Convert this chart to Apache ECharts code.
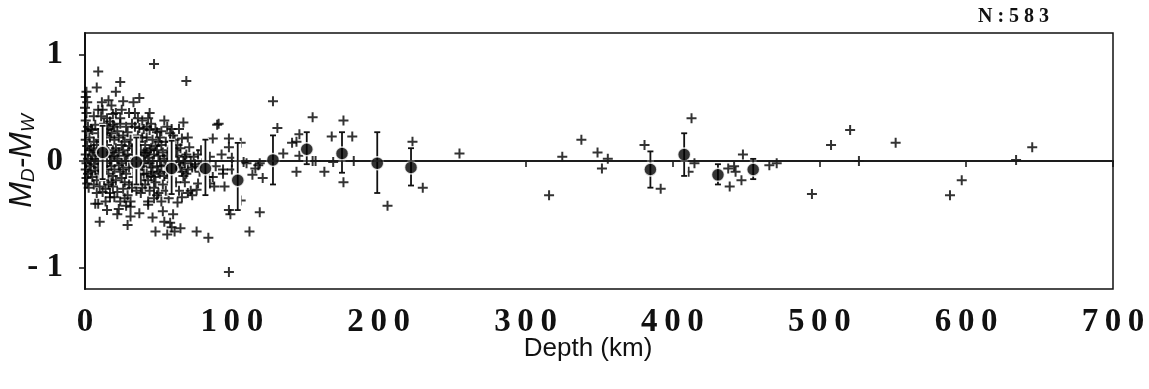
<!DOCTYPE html>
<html>
<head>
<meta charset="utf-8">
<script src="https://cdn.jsdelivr.net/npm/echarts@6/dist/echarts.min.js"></script>
<style>html,body{margin:0;padding:0;background:#fff;}#chart{width:1149px;height:389px;}</style>
</head>
<body>
<div id="chart"></div>
<script>
// ---- data ----
var xTicks = [0, 100, 200, 300, 400, 500, 600, 700];
var yTicks = [-1, 0, 1];
var sampleCountLabel = 'N:583';

// individual events: [depth km, MD-MW]
var crossPoints = [
  // 0-3 km
  [1,0.65],[0.5,0.6],[1.5,0.55],[0,0.5],[1,0.45],[0.5,0.38],[2,0.32],[1,0.28],[0.5,0.2],[1.5,0.14],
  [3,0.1],[0.5,0.06],[2,0.02],[1,-0.02],[3,-0.05],[0.5,-0.08],[2,-0.12],[1,-0.16],[1.5,-0.21],[2.5,-0.25],
  // 3-10 km
  [4,0.3],[5,0.29],[6,0.18],[7,0.34],[8,0.69],[9,0.84],[9,0.48],[9,0.26],[4,0.12],[5,0.05],
  [6,-0.03],[7,-0.09],[8,0.08],[5,-0.15],[6,-0.22],[7,-0.4],[9,-0.4],[10,-0.24],[10,-0.57],[4,-0.1],
  [8,-0.18],[3,0.22],[6,0.42],[8,0.15],[10,0.02],[7,0.02],[9,-0.06],[4,0.0],[10,0.2],[10,-0.12],
  [6,0.1],[8,-0.3],
  // 10-20 km
  [11.5,0.55],[12,0.48],[14,0.24],[15,0.4],[16,0.57],[17,0.37],[18,0.52],[18,0.26],[19,0.34],[11,0.3],
  [12,0.18],[13,0.12],[14,0.05],[15,0.15],[16,0.08],[17,0.0],[18,-0.05],[19,0.1],[20,0.2],[11,-0.02],
  [12,-0.1],[13,-0.18],[14,-0.26],[15,-0.46],[16,-0.12],[17,-0.3],[18,-0.2],[19,-0.24],[20,-0.34],[17,-0.34],
  [12,-0.29],[14,-0.08],[16,-0.22],[18,0.04],[20,-0.08],[13,0.35],[11,0.08],[15,-0.02],[19,-0.14],[20,0.05],
  [13,-0.05],[17,0.22],[15,0.29],[19,0.44],[11,0.42],[14,-0.38],[16,0.3],
  // 20-30 km
  [21,0.65],[24,0.74],[24,0.4],[24,0.35],[26,0.56],[22,0.28],[23,0.22],[25,0.15],[26,0.1],[27,0.05],
  [28,0.0],[29,0.27],[21,0.12],[22,0.02],[23,-0.04],[24,-0.1],[25,-0.16],[26,-0.26],[27,-0.2],[28,-0.12],
  [29,-0.32],[30,-0.06],[22,-0.29],[22,-0.5],[24,-0.38],[29,-0.6],[21,-0.18],[23,0.08],[25,-0.02],[27,0.18],
  [28,0.32],[30,0.14],[26,-0.08],[29,0.06],[21,0.45],[25,0.48],[28,-0.42],[30,-0.22],[23,-0.45],[27,-0.35],
  [26,0.24],[20,0.32],
  // 30-40 km
  [33,0.55],[37,0.59],[34,0.45],[34,0.32],[37,0.31],[36,0.24],[31,0.2],[32,0.12],[33,0.06],[34,0.02],
  [35,-0.03],[36,-0.08],[37,-0.13],[38,-0.18],[39,-0.05],[40,0.08],[31,-0.38],[31,-0.43],[31,-0.52],[37,-0.49],
  [32,-0.25],[33,-0.15],[35,0.15],[36,0.4],[38,0.1],[39,0.22],[40,-0.12],[35,-0.28],[38,-0.3],[40,0.3],
  [33,-0.06],[39,-0.25],[32,0.35],[36,0.06],[34,-0.2],[37,0.18],[40,-0.02],[30,0.45],[39,0.38],[35,0.0],
  // 40-50 km
  [47,0.91],[44,0.45],[43,0.4],[44,0.29],[42,0.22],[49,0.27],[41,0.15],[42,0.08],[43,0.03],[44,-0.02],
  [45,-0.06],[46,-0.1],[47,-0.15],[48,-0.2],[49,-0.05],[50,0.05],[41,-0.22],[43,-0.38],[43,-0.41],[46,-0.53],
  [48,-0.66],[49,-0.32],[45,0.12],[46,0.2],[47,0.06],[48,0.14],[50,0.18],[42,-0.12],[44,-0.28],[47,-0.25],
  [50,-0.1],[45,0.35],[48,0.3],[41,0.05],[49,0.1],[46,0.0],[43,-0.18],[45,-0.14],[50,-0.3],[42,0.32],
  [47,-0.35],[44,0.1],
  // 50-60 km
  [51,0.22],[54,0.38],[56,0.32],[58,0.26],[52,0.15],[53,0.08],[54,0.02],[55,-0.04],[56,-0.1],[57,-0.16],
  [58,-0.04],[59,0.12],[60,0.04],[52,-0.38],[53,-0.47],[54,-0.57],[56,-0.69],[58,-0.58],[59,-0.62],[51,-0.12],
  [53,-0.22],[55,-0.28],[57,-0.35],[59,-0.2],[60,-0.08],[55,0.18],[57,0.1],[51,0.0],[52,0.28],[59,0.3],
  [60,0.24],[54,-0.14],[56,0.05],[58,0.18],[60,-0.5],[52,-0.05],
  // 60-70 km
  [61,0.2],[61,-0.66],[65,-0.63],[66,0.21],[70,0.22],[71,0.13],[67,0.36],[69,0.75],[62,0.1],[63,0.05],
  [64,-0.01],[65,-0.06],[66,-0.1],[67,-0.14],[68,-0.02],[69,0.06],[70,-0.08],[63,-0.39],[62,-0.2],[64,-0.28],
  [66,-0.34],[68,-0.2],[70,-0.3],[63,0.15],[65,0.12],[67,0.0],[69,-0.12],[62,-0.04],[64,0.3],[68,0.04],
  // 70-100 km
  [73,-0.32],[72,-0.28],[76,-0.27],[77,-0.21],[76,-0.66],[77,0.06],[74,0.04],[72,0.0],[75,-0.05],[78,-0.1],
  [80,-0.02],[79,0.1],[84,-0.72],[85,-0.21],[85,0.04],[87,0.21],[87,-0.15],[88,-0.24],[89,-0.05],[90,0.34],
  [91,0.35],[93,0.06],[94,-0.08],[94,-0.12],[95,-0.24],[98,0.21],[98,0.13],[98,-0.46],[99,-0.5],[100,0.03],
  [100,-0.08],[98,-1.04],[82,-0.02],[84,-0.15],[73,-0.06],[75,-0.03],
  // 100-125 km
  [106,0.17],[108,-0.01],[106,-0.37],[112,-0.66],[114,-0.13],[116,-0.07],[118,-0.04],[119,-0.02],[119,-0.48],[121,-0.16],
  [110,-0.02],
  // 125-260 km
  [128,0.56],[131,0.31],[135,0.07],[141,0.17],[144,0.18],[146,0.05],[146,0.25],[144,-0.1],[155,0.41],[155,0.0],
  [157,0.0],[163,-0.1],[168,0.23],[169,-0.01],[176,0.38],[176,-0.2],[182,0.23],[183,0.0],[206,-0.42],[223,0.18],
  [230,-0.25],[255,0.07],
  // deeper than 300 km
  [316,-0.32],[325,0.04],[338,0.2],[349,0.08],[352,-0.07],[356,0.02],[381,0.15],[392,-0.26],[411,-0.1],[413,0.4],
  [415,-0.02],[438,-0.07],[439,-0.24],[442,-0.05],[443,-0.1],[447,-0.18],[448,0.06],[466,-0.04],[471,-0.02],[495,-0.31],
  [508,0.15],[521,0.29],[527,0.0],[552,0.17],[589,-0.32],[597,-0.18],[634,0.01],[645,0.13]
];

// binned means with error bars
var meanDepth = [12, 35, 59, 82, 104, 128, 151, 175, 199, 222, 385, 408, 431, 455];
var meanDiff  = [0.08, -0.01, -0.07, -0.07, -0.18, 0.01, 0.11, 0.07, -0.02, -0.06, -0.08, 0.06, -0.13, -0.08];
var errHigh   = [0.33, 0.22, 0.19, 0.20, 0.17, 0.24, 0.27, 0.27, 0.27, 0.12, 0.09, 0.26, -0.03, 0.02];
var errLow    = [-0.17, -0.22, -0.31, -0.32, -0.46, -0.22, -0.03, -0.11, -0.30, -0.23, -0.25, -0.14, -0.22, -0.17];

// ---- chart ----
var meanPoints = meanDepth.map(function (d, i) { return [d, meanDiff[i]]; });
var errData = meanDepth.map(function (d, i) { return [d, errLow[i], errHigh[i]]; });
var plusPath = 'path://M4,0h2v4h4v2h-4v4h-2v-4h-4v-2h4z';
var serif = '"Liberation Serif", "Times New Roman", serif';
var sans = '"Liberation Sans", Arial, sans-serif';
var spaced = function (s) { return String(s).split('').join('\u2009'); };

var chart = echarts.init(document.getElementById('chart'));
chart.setOption({
  animation: false,
  backgroundColor: '#ffffff',
  grid: {
    left: 85, right: 36, top: 33, bottom: 100, containLabel: false, outerBoundsMode: 'none',
    show: true, borderColor: '#111', borderWidth: 1.5, backgroundColor: 'transparent'
  },
  graphic: [{
    type: 'text', left: 978, top: 7,
    style: { text: sampleCountLabel.split('').join(' '), font: 'bold 20px ' + serif, fill: '#111' }
  }],
  xAxis: {
    type: 'value', min: 0, max: 700, interval: 100,
    name: 'Depth (km)', nameLocation: 'middle', nameGap: 47, nameMoveOverlap: false,
    nameTextStyle: { fontFamily: sans, fontSize: 26, color: '#111', padding: [0, 22, 0, 0] },
    axisLine: { show: true, lineStyle: { color: '#111', width: 2 } },
    axisTick: { show: true, inside: false, length: 6, lineStyle: { color: '#111', width: 1.5 }, customValues: xTicks },
    axisLabel: {
      customValues: xTicks, margin: 17, fontFamily: serif, fontWeight: 'bold', fontSize: 33, color: '#111',
      formatter: function (v) { return spaced(v); }
    },
    splitLine: { show: false }
  },
  yAxis: {
    type: 'value', min: -1.2, max: 1.2,
    name: '{m|M}{s|D}{m|-M}{s|W}', nameLocation: 'middle', nameRotate: 90, nameGap: 47, nameMoveOverlap: false,
    nameTextStyle: {
      rich: {
        m: { fontFamily: sans, fontStyle: 'italic', fontSize: 31, color: '#111', lineHeight: 32, verticalAlign: 'middle' },
        s: { fontFamily: sans, fontStyle: 'italic', fontSize: 19, color: '#111', lineHeight: 14, verticalAlign: 'bottom' }
      }
    },
    axisLine: { show: true, lineStyle: { color: '#111', width: 2 } },
    axisTick: { show: true, inside: false, length: 6, lineStyle: { color: '#111', width: 1.5 }, customValues: yTicks },
    axisLabel: {
      customValues: yTicks, margin: 22, fontFamily: serif, fontWeight: 'bold', fontSize: 33, color: '#111',
      formatter: function (v) { return v < 0 ? '- ' + Math.abs(v) : String(v); }
    },
    splitLine: { show: false }
  },
  series: [
    {
      type: 'scatter', data: crossPoints, symbol: plusPath, symbolSize: 10,
      itemStyle: { color: '#000' }, z: 2, silent: true,
      markLine: {
        silent: true, symbol: 'none', label: { show: false },
        lineStyle: { color: '#222', width: 1.6, type: 'solid' },
        data: [{ yAxis: 0 }]
      }
    },
    {
      type: 'custom', data: errData, z: 3, silent: true,
      renderItem: function (params, api) {
        var x = api.value(0);
        var lo = api.coord([x, api.value(1)]);
        var hi = api.coord([x, api.value(2)]);
        var cx = lo[0];
        var cap = 3;
        return {
          type: 'group',
          children: [
            { type: 'rect', shape: { x: cx - 3.5, y: hi[1] - 2, width: 7, height: lo[1] - hi[1] + 4 }, style: { fill: '#fff' } },
            { type: 'line', shape: { x1: cx, y1: hi[1], x2: cx, y2: lo[1] }, style: { stroke: '#111', lineWidth: 1.8 } },
            { type: 'line', shape: { x1: cx - cap, y1: hi[1], x2: cx + cap, y2: hi[1] }, style: { stroke: '#111', lineWidth: 1.8 } },
            { type: 'line', shape: { x1: cx - cap, y1: lo[1], x2: cx + cap, y2: lo[1] }, style: { stroke: '#111', lineWidth: 1.8 } }
          ]
        };
      }
    },
    {
      type: 'scatter', data: meanPoints, symbol: 'circle', symbolSize: 13, z: 4, silent: true,
      itemStyle: { color: '#000', borderColor: '#fff', borderWidth: 1.5 }
    }
  ]
});
</script>
</body>
</html>
